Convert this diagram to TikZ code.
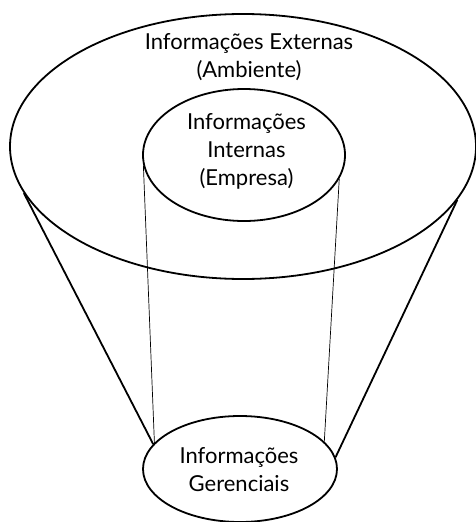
\documentclass[tikz,border=0pt]{standalone}
\usepackage{fontspec}
\setmainfont{Lato}
\usetikzlibrary{shapes.geometric}
\tikzset{
  ell/.style={draw, ellipse, inner sep=0pt, line width=1.8pt},
  lbl/.style={align=center, inner sep=0pt, font=\fontsize{22}{28}\selectfont},
  thick cone/.style={line width=1.8pt},
  thin cone/.style={line width=0.7pt}
}
\begin{document}
\begin{tikzpicture}[x=1pt,y=-1pt]
\useasboundingbox (0,0) rectangle (476,522);
\node[ell, minimum width=466pt, minimum height=265pt] (outer) at (243,146.5) {};
\node[ell, minimum width=202pt, minimum height=132pt] (inner) at (244,155) {};
\node[ell, minimum width=194pt, minimum height=106pt] (bottom) at (240,469) {};
\node[lbl] (outertext) at (249,57) {Informações Externas\\(Ambiente)};
\node[lbl] (innertext) at (246.5,151) {Informações\\Internas\\(Empresa)};
\node[lbl] (bottomtext) at (239,470) {Informações\\Gerenciais};
\draw[thick cone] (outer.192.1) -- (bottom.164.6);
\draw[thick cone] (outer.346.5) -- (bottom.7.9);
\draw[thin cone] (inner.186.9) -- (bottom.163);
\draw[thin cone] (inner.346.4) -- (bottom.18.8);
\end{tikzpicture}
\end{document}
